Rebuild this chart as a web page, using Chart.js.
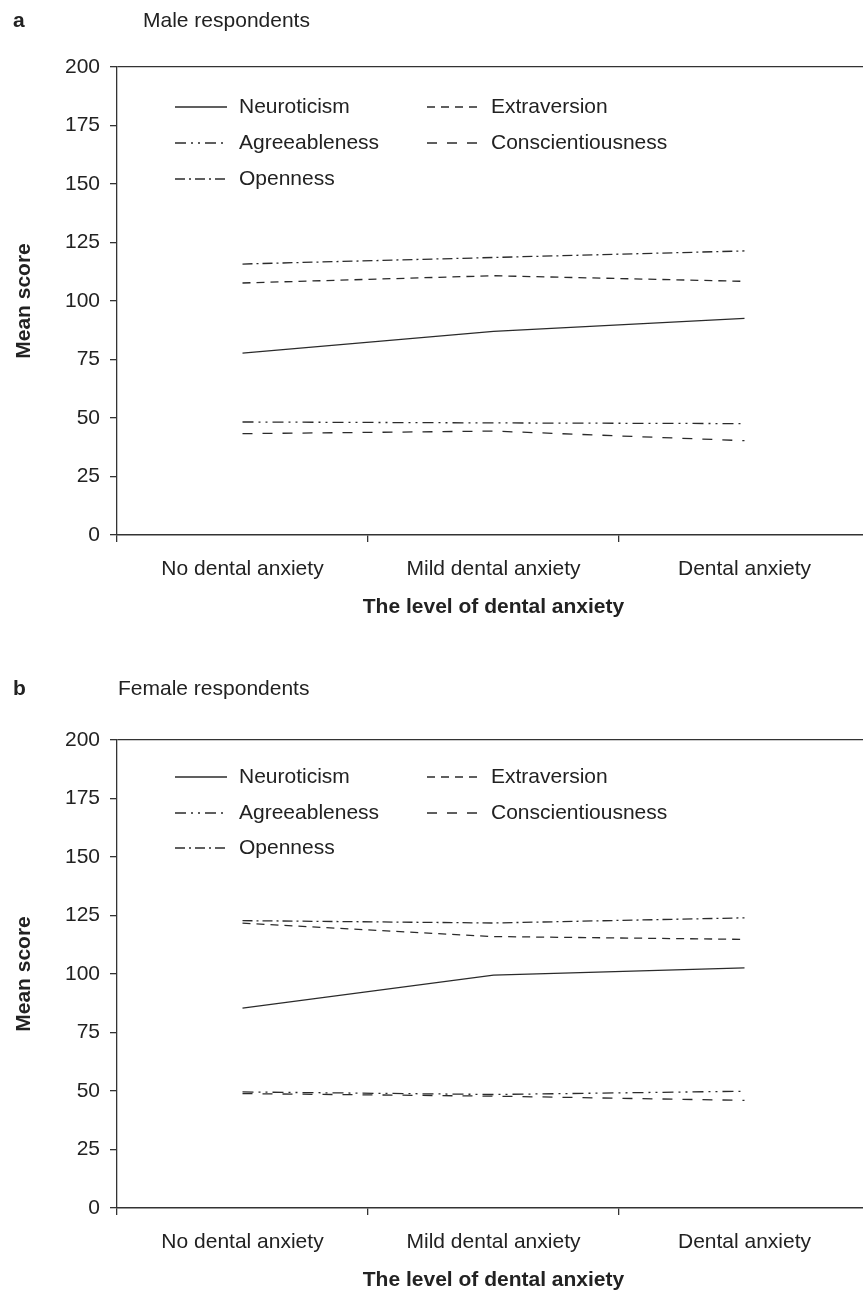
<!DOCTYPE html>
<html>
<head>
<meta charset="utf-8">
<script src="https://cdn.jsdelivr.net/npm/chart.js@4/dist/chart.umd.min.js"></script>
<style>
  html, body { margin: 0; padding: 0; background: #fff; overflow: hidden; }
  body { width: 863px; height: 1291px; font-family: "Liberation Sans", Arial, sans-serif; color: #222; }
  .panel { position: relative; width: 870px; }
  .tag { position: absolute; left: 13px; font-size: 21px; line-height: 24px; font-weight: bold; }
  .sub { position: absolute; font-size: 21px; line-height: 24px; }
</style>
</head>
<body>
<div class="panel" id="panelA" style="height:638px">
  <div class="tag" style="top:8px">a</div>
  <div class="sub" style="top:8px;left:143px">Male respondents</div>
  <canvas id="chartA"></canvas>
</div>
<div class="panel" id="panelB" style="height:655px">
  <div class="tag" style="top:38px">b</div>
  <div class="sub" style="top:38px;left:118px">Female respondents</div>
  <canvas id="chartB"></canvas>
</div>
<script>
// Categories on the x axis
const categories = ['No dental anxiety', 'Mild dental anxiety', 'Dental anxiety'];
const yTicks = [0, 25, 50, 75, 100, 125, 150, 175, 200];

// Male respondents
const maleNeuroticism = [77.7, 87.0, 92.6];
const maleExtraversion = [107.7, 110.8, 108.4];
const maleAgreeableness = [48.3, 47.9, 47.6];
const maleConscientiousness = [43.3, 44.4, 40.3];
const maleOpenness = [115.8, 118.6, 121.4];

// Female respondents
const femaleNeuroticism = [85.4, 99.5, 102.6];
const femaleExtraversion = [121.7, 116.0, 114.8];
const femaleAgreeableness = [49.6, 48.5, 49.9];
const femaleConscientiousness = [48.9, 47.8, 46.0];
const femaleOpenness = [122.8, 121.8, 124.0];

const INK = '#222';
const LINE = '#2b2b2b';
const AXIS = '#333';
const FONT = '"Liberation Sans", Arial, sans-serif';
const FONT_SIZE = 21;

// Dash patterns per trait (legend order)
const traitStyles = [
  { label: 'Neuroticism', dash: [] },
  { label: 'Extraversion', dash: [8, 6] },
  { label: 'Agreeableness', dash: [11, 5, 2, 5, 2, 5] },
  { label: 'Conscientiousness', dash: [10, 10] },
  { label: 'Openness', dash: [10, 4, 2, 4] },
];

// Legend drawn inside the plot area, two columns
const insideLegend = {
  id: 'insideLegend',
  afterDatasetsDraw(chart, args, opts) {
    const { ctx, chartArea } = chart;
    ctx.save();
    chart.data.datasets.forEach((ds, i) => {
      const x0 = chartArea.left + opts.cols[i % 2];
      const y = chartArea.top + opts.rows[Math.floor(i / 2)];
      ctx.strokeStyle = ds.borderColor;
      ctx.lineWidth = ds.borderWidth;
      ctx.setLineDash(ds.borderDash);
      ctx.beginPath();
      ctx.moveTo(x0, y);
      ctx.lineTo(x0 + 52, y);
      ctx.stroke();
      ctx.setLineDash([]);
      ctx.fillStyle = INK;
      ctx.font = FONT_SIZE + 'px ' + FONT;
      ctx.textBaseline = 'middle';
      ctx.fillText(ds.label, x0 + 64, y);
    });
    ctx.restore();
  },
};

function renderPanel(canvasId, seriesList, topPad, bottomPad, legendRows) {
  const ctx = document.getElementById(canvasId).getContext('2d');
  return new Chart(ctx, {
    type: 'line',
    data: {
      labels: categories,
      datasets: seriesList.map((values, i) => ({
        label: traitStyles[i].label,
        data: values,
        borderColor: LINE,
        borderWidth: 1.3,
        borderDash: traitStyles[i].dash,
        pointRadius: 0,
        tension: 0,
        fill: false,
      })),
    },
    options: {
      responsive: true,
      maintainAspectRatio: false,
      animation: false,
      layout: { padding: { top: topPad, left: 0, right: 0, bottom: bottomPad } },
      plugins: {
        legend: { display: false },
        tooltip: { enabled: false },
        insideLegend: { cols: [58, 310], rows: legendRows },
      },
      scales: {
        x: {
          type: 'category',
          offset: true,
          grid: {
            offset: true,
            drawOnChartArea: false,
            tickLength: 7,
            tickColor: AXIS,
            lineWidth: 1.3,
          },
          border: { display: true, color: AXIS, width: 1.6 },
          ticks: { color: INK, font: { size: FONT_SIZE, family: FONT }, padding: 15, maxRotation: 0 },
          title: {
            display: true,
            text: 'The level of dental anxiety',
            color: INK,
            font: { size: FONT_SIZE, weight: 'bold', family: FONT },
            padding: { top: 16, bottom: 0 },
          },
          afterFit(scale) { scale.height = 85; },
        },
        y: {
          min: 0,
          max: 200,
          afterBuildTicks(scale) { scale.ticks = yTicks.map((v) => ({ value: v })); },
          grid: {
            color: (c) => (c.tick && c.tick.value === 200 ? AXIS : 'rgba(0,0,0,0)'),
            tickColor: AXIS,
            tickLength: 7,
            lineWidth: 1.3,
          },
          border: { display: true, color: AXIS, width: 1.3 },
          ticks: { color: INK, font: { size: FONT_SIZE, family: FONT }, padding: 10 },
          title: {
            display: true,
            text: 'Mean score',
            color: INK,
            font: { size: FONT_SIZE, weight: 'bold', family: FONT },
            padding: { top: 12, bottom: 20 },
          },
          afterFit(scale) { scale.width = 117; },
        },
      },
    },
    plugins: [insideLegend],
  });
}

renderPanel('chartA', [maleNeuroticism, maleExtraversion, maleAgreeableness, maleConscientiousness, maleOpenness], 67, 18, [40, 76, 112]);
renderPanel('chartB', [femaleNeuroticism, femaleExtraversion, femaleAgreeableness, femaleConscientiousness, femaleOpenness], 102, 0, [37, 73, 108]);
</script>
</body>
</html>
